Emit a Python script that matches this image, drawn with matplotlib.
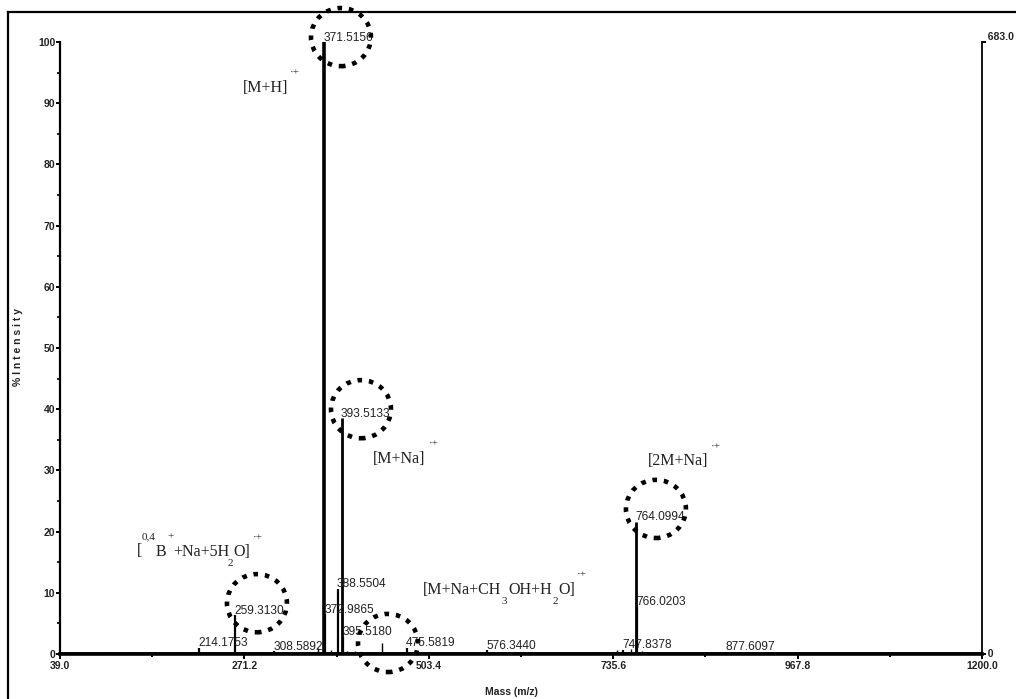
import matplotlib
matplotlib.use("Agg")
import matplotlib.pyplot as plt
from matplotlib.patches import Ellipse
from matplotlib.lines import Line2D

# ---------------- data ----------------
peak_mz = [214.1753, 259.3130, 308.5892, 371.5156, 372.9865, 388.5504, 393.5133,
           395.5180, 475.5819, 576.3440, 747.8378, 764.0994, 766.0203, 877.6097]
peak_int = [1.0, 6.3, 0.5, 100.0, 6.5, 10.7, 38.5,
            2.8, 1.0, 0.6, 0.7, 21.6, 7.7, 0.4]
peak_labels = ["214.1753", "259.3130", "308.5892", "371.5156", "372.9865", "388.5504",
               "393.5133", "395.5180", "475.5819", "576.3440", "747.8378", "764.0994",
               "766.0203", "877.6097"]
minor_mz = [95.0, 130.0, 160.0, 185.0, 232.0, 290.0, 364.0, 380.0, 400.0, 410.0,
            430.0, 444.0, 480.0, 520.0, 600.0, 715.0, 740.0, 758.0, 772.0]
minor_int = [0.3, 0.3, 0.3, 0.4, 0.3, 0.3, 0.9, 0.6, 0.5, 0.5,
             0.4, 1.8, 0.4, 0.2, 0.2, 0.3, 0.6, 0.8, 0.5]
x_ticks = [39.0, 271.2, 503.4, 735.6, 967.8, 1200.0]
y_ticks = [0, 10, 20, 30, 40, 50, 60, 70, 80, 90, 100]
right_max = 683.0

NARROW = ["Liberation Sans Narrow", "Liberation Sans", "DejaVu Sans"]
SERIF = ["Liberation Serif", "DejaVu Serif"]
TXT = "#222222"

W, H = 1016, 699
fig = plt.figure(figsize=(W / 100, H / 100), dpi=100)
fig.patch.set_facecolor("white")

def fx(px):
    return px / W

def fy(py):
    return 1 - py / H

ax = fig.add_axes([fx(60), fy(654), fx(982) - fx(60), fy(42) - fy(654)])
ax.set_xlim(x_ticks[0], x_ticks[-1])
ax.set_ylim(0, 100)

# spectrum sticks
ax.vlines(minor_mz, 0, minor_int, colors="black", linewidth=1.0)
widths = [2.6 if v >= 50 else (2.0 if v >= 15 else 1.6) for v in peak_int]
ax.vlines(peak_mz, 0, peak_int, colors="black", linewidth=widths)
ax.plot([x_ticks[0], x_ticks[-1]], [0, 0], color="black", linewidth=2.6, solid_capstyle="butt")

# peak labels
for m, v, s in zip(peak_mz, peak_int, peak_labels):
    ax.annotate(s, (m, v), xytext=(-0.5, 1.0), textcoords="offset points",
                ha="left", va="baseline", fontsize=8.6, color=TXT, family=NARROW)

# spines / ticks
for side in ["top", "right"]:
    ax.spines[side].set_visible(False)
ax.spines["left"].set_linewidth(1.6)
ax.spines["bottom"].set_linewidth(2.6)
ax.set_xticks(x_ticks)
ax.set_xticklabels([f"{t:.1f}" for t in x_ticks])
ax.set_xticks([(a + b) / 2 for a, b in zip(x_ticks[:-1], x_ticks[1:])], minor=True)
ax.set_yticks(y_ticks)
ax.set_yticks([t + 5 for t in y_ticks[:-1]], minor=True)
ax.tick_params(axis="x", which="major", direction="out", length=3.5, width=1.4, pad=1.5)
ax.tick_params(axis="x", which="minor", direction="out", length=2.5, width=1.4)
ax.tick_params(axis="y", which="major", direction="out", length=3, width=1.4, pad=0.5)
ax.tick_params(axis="y", which="minor", direction="out", length=2, width=1.2)
for lab in ax.get_xticklabels() + ax.get_yticklabels():
    lab.set_family(NARROW)
    lab.set_fontweight("bold")
    lab.set_fontsize(7.5)
    lab.set_color(TXT)

# right axis
ax2 = ax.twinx()
ax2.set_ylim(0, right_max)
ax2.set_yticks([0, right_max])
ax2.set_yticklabels([])
for side in ["top", "left", "bottom"]:
    ax2.spines[side].set_visible(False)
ax2.spines["right"].set_linewidth(1.3)
ax2.tick_params(axis="y", direction="out", length=3, width=1.4)
ax2.text(1.0, right_max, "  " + f"{right_max:.1f}", transform=ax2.get_yaxis_transform(),
         ha="left", va="bottom", fontsize=7.5, fontweight="bold", family=NARROW, color=TXT)
ax2.text(1.0, 0, "  0", transform=ax2.get_yaxis_transform(),
         ha="left", va="center", fontsize=7.5, fontweight="bold", family=NARROW, color=TXT)

# dotted circles
circles = [(392.8, 100.8), (418.0, 40.0), (287.0, 8.3), (789.4, 23.7), (452.0, 1.8)]
for cx, cy in circles:
    e = Ellipse((cx, cy), width=75.5, height=9.5, fill=False, edgecolor="black",
                linewidth=3.3, linestyle=(0, (1, 1.5)), clip_on=False, zorder=5)
    ax.add_patch(e)

# axis titles
fig.text(fx(511), fy(692), "Mass (m/z)", ha="center", va="center", fontsize=7.5,
         fontweight="bold", family=NARROW, color=TXT)
fig.text(fx(18), fy(347), "% I n t e n s i t y", ha="center", va="center", rotation=90,
         fontsize=7.5, fontweight="bold", family=NARROW, color=TXT)

# ion annotations (Times-like)
def t(px, py, s, size=11.5):
    fig.text(fx(px), fy(py), s, ha="left", va="center", fontsize=size, family=SERIF, color=TXT)

def sm(px, py, s):
    fig.text(fx(px), fy(py), s, ha="left", va="center", fontsize=8, family=SERIF, color=TXT)

t(243, 88, "[M+H]")
sm(290, 73, "·+")
t(373, 459, "[M+Na]")
sm(429, 444, "·+")
t(648, 461, "[2M+Na]")
sm(711, 447, "·+")
t(423, 590, "[M+Na+CH")
sm(502, 602, "3")
t(508, 590, "OH+H")
sm(553, 602, "2")
t(558, 590, "O]")
sm(577, 575, "·+")
t(137, 551, "[")
sm(142, 537, "0,4")
t(156, 552, "B")
sm(167, 537, "+")
t(173, 552, "+Na+5H")
sm(228, 563, "2")
t(233, 552, "O]")
sm(253, 538, "·+")

# outer frame
fig.add_artist(Line2D([fx(8), 1.0], [fy(12), fy(12)], color="black", linewidth=1.6))
fig.add_artist(Line2D([fx(8), fx(8)], [fy(12), 0.0], color="black", linewidth=1.6))

fig.savefig("out.png", dpi=100, facecolor="white")
